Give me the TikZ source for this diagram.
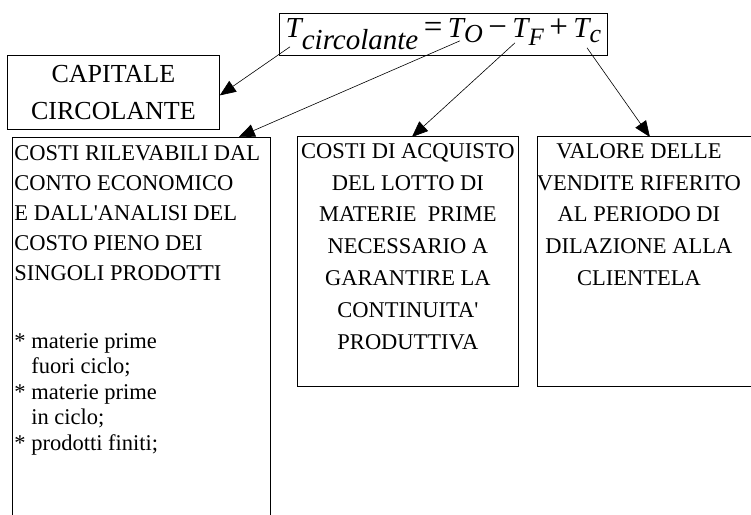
\documentclass[tikz,border=0pt]{standalone}
\usepackage{fontspec}
\setmainfont{Liberation Serif}
\usetikzlibrary{calc,positioning,arrows.meta}

\begin{document}
\begin{tikzpicture}[x=1pt, y=-1pt,
  every node/.style={inner sep=0pt, line width=0.8pt},
  box/.style={draw, anchor=north west},
  txt/.style={font=\fontsize{22.5}{31.8}\selectfont, align=center},
  arr/.style={-{Triangle[length=16pt, width=13pt]}, line width=0.6pt}]
  \useasboundingbox (0,0) rectangle (751,514);
  \clip (0,0) rectangle (751,514);
  \node[box, minimum width=328pt, minimum height=42pt] (formula) at (279,13)
    {\fontsize{29}{29}\selectfont\itshape T\raisebox{-12pt}{circolante}%
     \upshape{\fontsize{33}{33}\selectfont\,=\,}\itshape T\raisebox{-5pt}{\fontsize{26}{26}\selectfont O}%
     \upshape{\fontsize{33}{33}\selectfont\,−\,}\itshape T\raisebox{-8pt}{\fontsize{25}{25}\selectfont F}%
     \upshape{\fontsize{33}{33}\selectfont\,+\,}\itshape T\raisebox{-5pt}{\fontsize{26}{26}\selectfont c}};
  \node[box, minimum width=212pt, minimum height=74pt, align=center,
    font=\fontsize{26}{37}\selectfont] (cap) at (7,55) {CAPITALE\\CIRCOLANTE};
  \node[box, minimum width=258pt, minimum height=400pt] (rilev) at (12,137) {};
  \node[box, minimum width=221pt, minimum height=250pt] (acq) at (297,136) {};
  \node[box, minimum width=221pt, minimum height=250pt] (vend) at (537,136) {};
  % testi dei riquadri
  \node[txt, align=left, font=\fontsize{22.5}{30}\selectfont,
    below right=8pt and 2pt of rilev.north west] (rilevtxt)
    {COSTI RILEVABILI DAL\\CONTO ECONOMICO\\E DALL\textquotesingle ANALISI DEL\\COSTO PIENO DEI\\SINGOLI PRODOTTI};
  \node[txt, align=left, font=\fontsize{22.5}{25.5}\selectfont,
    below right=196pt and 2pt of rilev.north west] (rilevlist)
    {* materie prime\\\phantom{*} fuori ciclo;\\* materie prime\\\phantom{*} in ciclo;\\* prodotti finiti;};
  \node[txt, below=7pt of acq.north] (acqtxt)
    {COSTI DI ACQUISTO\\DEL LOTTO DI\\MATERIE\ \ PRIME\\NECESSARIO A\\GARANTIRE LA\\CONTINUITA\textquotesingle\\PRODUTTIVA};
  \node[txt, below=7pt of vend.north, xshift=-9pt] (vendtxt)
    {VALORE DELLE\\VENDITE RIFERITO\\AL PERIODO DI\\DILAZIONE ALLA\\CLIENTELA};
  % frecce
  \coordinate (fa) at ($(formula.south west)+(11,-9)$);
  \coordinate (fb) at ($(formula.south west)+(181,-15)$);
  \coordinate (fc) at ($(formula.south west)+(236,-13)$);
  \coordinate (fd) at ($(formula.south west)+(308,-8)$);
  \coordinate (rilevtip) at ($(rilev.north east)+(-32,0)$);
  \draw[arr] (fa) -- ($(cap.east)+(0,3)$);
  \draw[arr] (fb) -- (rilevtip);
  \draw[arr] (fc) -- ($(acq.north)+(4,1)$);
  \draw[arr] (fd) -- ($(vend.north)+(2,1)$);
\end{tikzpicture}
\end{document}
